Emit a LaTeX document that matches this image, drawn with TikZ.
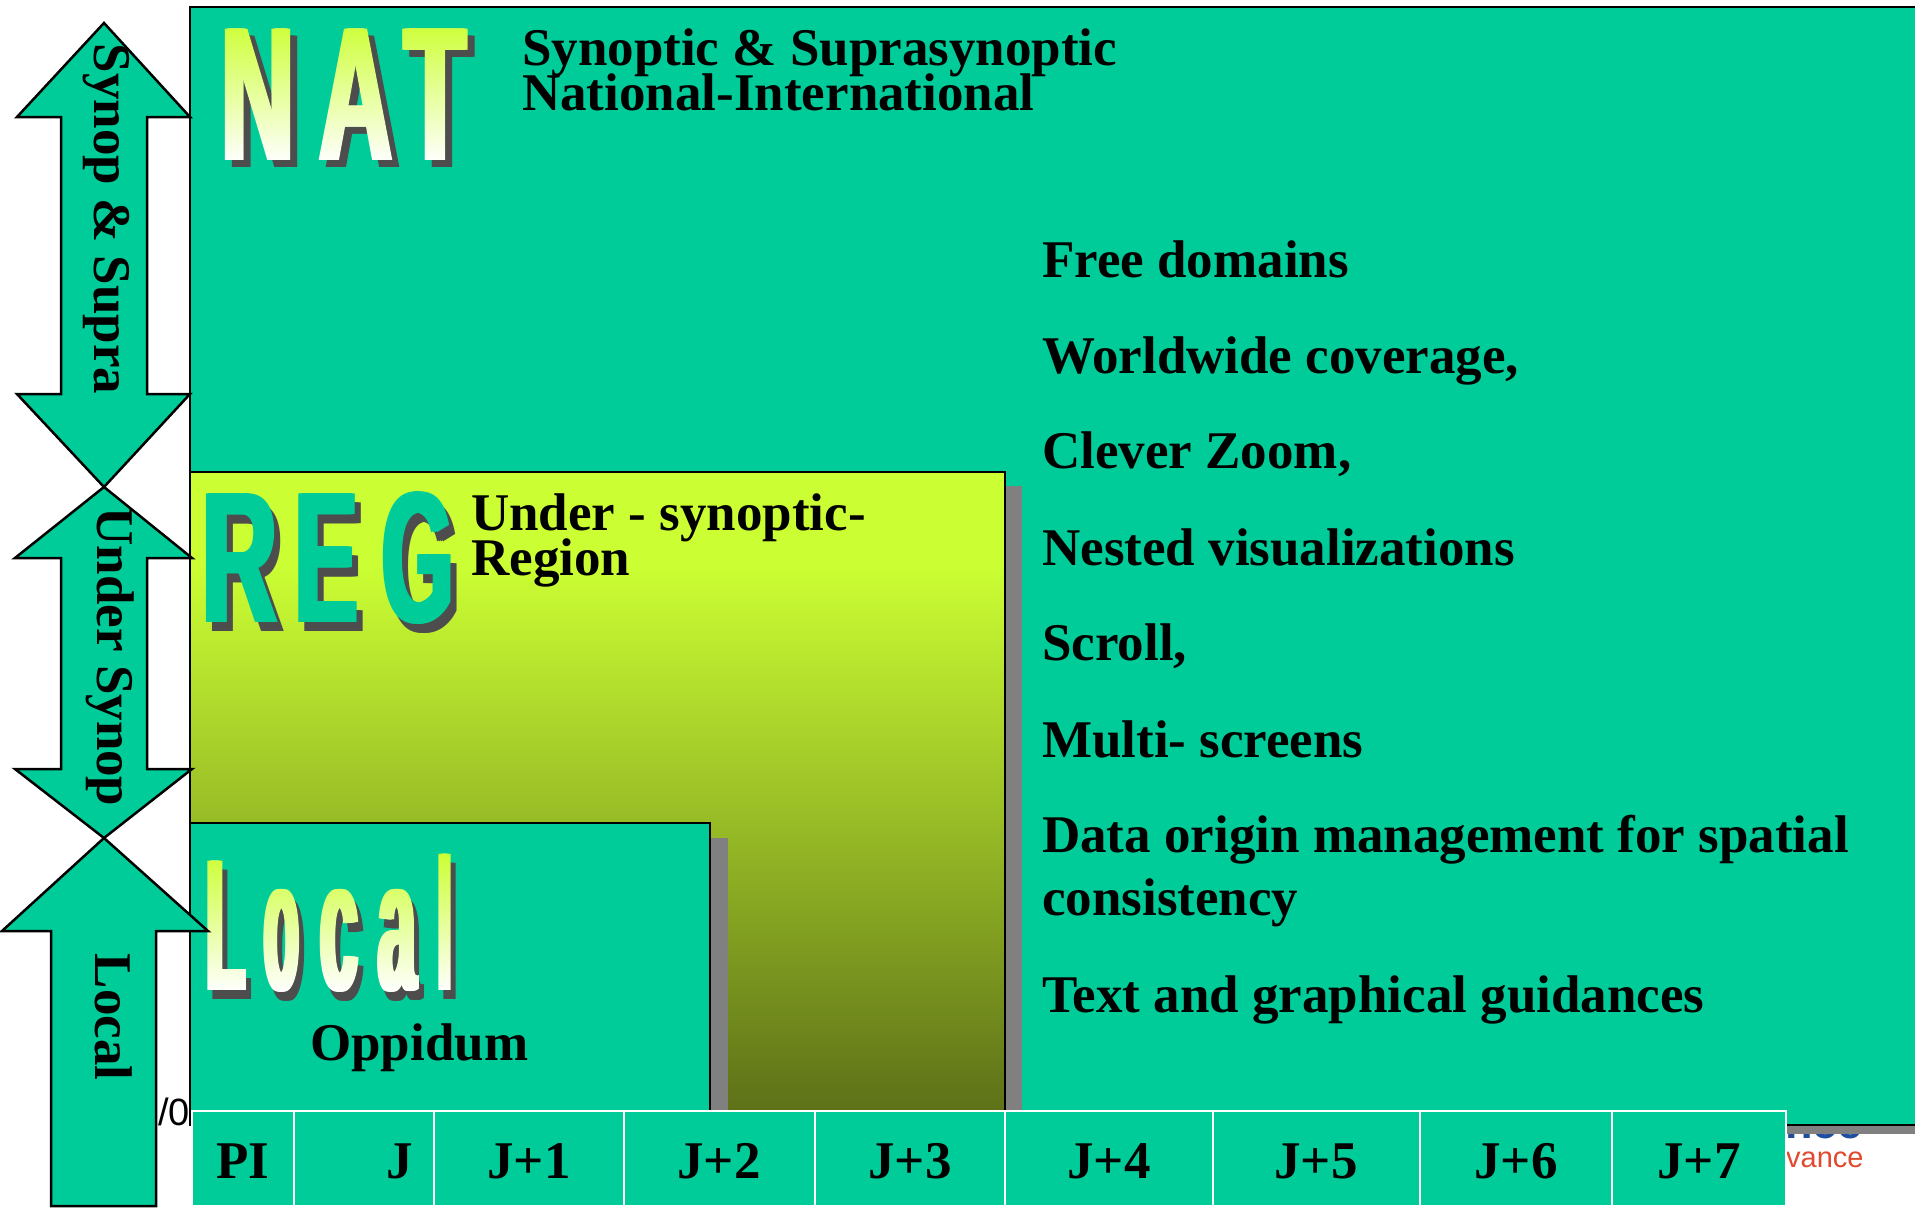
\documentclass[tikz,border=0pt]{standalone}
\usepackage{fontspec}
\usepackage{graphicx}
\usetikzlibrary{fadings}
\setmainfont{Liberation Serif}
\newfontfamily\bigf{Liberation Sans}
\newfontfamily\sansf{Liberation Sans}
\definecolor{teal1}{HTML}{00CC99}
\definecolor{lgreen}{HTML}{CCFF33}
\definecolor{regdark}{HTML}{5D7018}
\definecolor{sgray}{HTML}{4D4D4D}
\definecolor{shgray}{HTML}{808080}
\definecolor{redt}{HTML}{E04A2E}
\definecolor{bluet}{HTML}{1F4E9E}
\pgfdeclareverticalshading{regshade}{100bp}{color(0bp)=(regdark); color(25bp)=(regdark); color(68bp)=(lgreen); color(100bp)=(lgreen)}
\newcommand\fNAT{\bigf\bfseries\fontsize{191}{191}\selectfont}
\newcommand\fREG{\bigf\bfseries\fontsize{187}{187}\selectfont}
\newcommand\fLOC{\bigf\bfseries\fontsize{188}{188}\selectfont}
\newcommand\fTXT{\bfseries\fontsize{53}{53}\selectfont}
\newcommand\twolines[2]{\vtop{\baselineskip=45pt\lineskiplimit=-100pt\lineskip=0pt\hbox{#1}\hbox{#2}}}
\newcommand\fadetxt[3]{\pgftext[base,left,at={\pgfpoint{(#1)*1pt}{(#2)*1pt}}]{\color{white}#3}}
% masks giving the heavy, condensed letter shapes
\pgfdeclarefading{natfade}{%
  \pgfpicture
  \pgfpathrectangle{\pgfpoint{-170pt}{-100pt}}{\pgfpoint{340pt}{200pt}}\pgfusepath{use as bounding box}%
  \foreach \dx in {0,2,4,6}{%
    \fadetxt{-126.4+\dx}{-65}{\fNAT\scalebox{.53}[1]{N}}%
    \fadetxt{-29+\dx}{-65}{\fNAT\scalebox{.53}[1]{A}}%
    \fadetxt{56.8+\dx}{-65}{\fNAT\scalebox{.53}[1]{T}}%
  }%
  \endpgfpicture}
\pgfdeclarefading{regfade}{%
  \pgfpicture
  \pgfpathrectangle{\pgfpoint{-150pt}{-90pt}}{\pgfpoint{300pt}{180pt}}\pgfusepath{use as bounding box}%
  \foreach \dx in {0,2,4,6}{%
    \fadetxt{-130.7+\dx}{-67}{\fREG\scalebox{.555}[1]{R}}%
    \fadetxt{-37.9+\dx}{-67}{\fREG\scalebox{.5}[1]{E}}%
    \fadetxt{49+\dx}{-67}{\fREG\scalebox{.49}[1]{G}}%
  }%
  \endpgfpicture}
\pgfdeclarefading{locfade}{%
  \pgfpicture
  \pgfpathrectangle{\pgfpoint{-150pt}{-90pt}}{\pgfpoint{300pt}{180pt}}\pgfusepath{use as bounding box}%
  \foreach \dx in {0,2,4,6}{%
    \fadetxt{-126.7+\dx}{-65}{\fLOC\scalebox{.34}[1]{L}}%
    \fadetxt{-68.3+\dx}{-65}{\fLOC\scalebox{.3}[1]{o}}%
    \fadetxt{-12.4+\dx}{-65}{\fLOC\scalebox{.36}[1]{c}}%
    \fadetxt{45.6+\dx}{-65}{\fLOC\scalebox{.36}[1]{a}}%
    \fadetxt{105.7+\dx}{-65}{\fLOC\scalebox{.25}[1]{l}}%
  }%
  \endpgfpicture}
\begin{document}
\begin{tikzpicture}[x=1pt,y=-1pt,
  bigl/.style={anchor=base west,inner sep=0pt,outer sep=0pt},
  box/.style={draw=black,line width=2.5pt,anchor=north west,inner sep=0pt,outer sep=0pt},
  lbl/.style={anchor=base west,inner sep=0pt,font=\fTXT},
  vlbl/.style={anchor=base,rotate=-90,inner sep=0pt,font=\fTXT},
  cell/.style={draw=white,line width=2.5pt,fill=teal1,anchor=north west,minimum height=95,inner sep=0pt,outer sep=0pt},
  celltxt/.style={anchor=base,inner sep=0pt,font=\fTXT},
  arr/.style={fill=teal1,draw=black,line width=2.5pt,line join=miter},
  masked/.style={path fading=#1,fit fading=false}]
\useasboundingbox (0,0) rectangle (1915,1208);
\clip (0,0) rectangle (1915,1208);
\fill[white] (0,0) rectangle (1915,1208);

% remnants behind the panels
\node[anchor=base west,inner sep=0pt,text=bluet,font=\sansf\bfseries\fontsize{45}{45}\selectfont] (logob) at (1785,1138) {nce};
\node[anchor=base west,inner sep=0pt,text=redt,font=\sansf\fontsize{29}{29}\selectfont] (logor) at (1786,1167) {vance};
\node[anchor=base east,inner sep=0pt,font=\sansf\fontsize{38}{38}\selectfont] (slash) at (190,1125) {/0};

% NAT panel
\fill[shgray] (198,16) rectangle (1935,1134);
\node[box,fill=teal1,minimum width=1760,minimum height=1118] (nat) at (190,7) {};
% REG panel
\fill[shgray] (207,486) rectangle (1022,1115);
\node[box,shade,shading=regshade,minimum width=815,minimum height=642] (reg) at (190,472) {};
% Local panel
\fill[shgray] (207,838) rectangle (728,1115);
\node[box,fill=teal1,minimum width=520,minimum height=290] (loc) at (190,823) {};

% NAT big letters
\fill[sgray,masked=natfade,fading transform={shift={(352,102)}}] (190,10) rectangle (520,190);
\node[bigl,text=white,font=\fNAT] (natN) at (221.6,160) {\scalebox{.53}[1]{N}};
\node[bigl,text=white,font=\fNAT] (natA) at (319,160) {\scalebox{.53}[1]{A}};
\node[bigl,text=white,font=\fNAT] (natT) at (404.8,160) {\scalebox{.53}[1]{T}};
\shade[masked=natfade,fading transform={shift={(345,95)}},top color=lgreen,bottom color=white] (190,21) rectangle (515,163);

% REG big letters
\fill[sgray,masked=regfade,fading transform={shift={(336,564)}}] (192,470) rectangle (480,650);
\node[bigl,text=teal1,font=\fREG] (regR) at (202.3,622) {\scalebox{.555}[1]{R}};
\node[bigl,text=teal1,font=\fREG] (regE) at (295.1,622) {\scalebox{.5}[1]{E}};
\node[bigl,text=teal1,font=\fREG] (regG) at (382,622) {\scalebox{.49}[1]{G}};
\fill[teal1,masked=regfade,fading transform={shift={(330,555)}}] (192,470) rectangle (480,650);

% Local big letters
\fill[sgray,masked=locfade,fading transform={shift={(335,934)}}] (192,840) rectangle (475,1010);
\node[bigl,text=white,font=\fLOC] (locL) at (206.3,990) {\scalebox{.34}[1]{L}};
\node[bigl,text=white,font=\fLOC] (loco) at (264.7,990) {\scalebox{.3}[1]{o}};
\node[bigl,text=white,font=\fLOC] (locc) at (320.6,990) {\scalebox{.36}[1]{c}};
\node[bigl,text=white,font=\fLOC] (loca) at (378.6,990) {\scalebox{.36}[1]{a}};
\node[bigl,text=white,font=\fLOC] (locl) at (438.7,990) {\scalebox{.25}[1]{l}};
\shade[masked=locfade,fading transform={shift={(330,925)}},top color=lgreen,bottom color=white] (195,853) rectangle (475,992);

% texts
\node[lbl] (t1) at (522,65) {\twolines{Synoptic \& Suprasynoptic}{National-International}};
\node[lbl] (t2) at (471,530) {\twolines{Under - synoptic-}{Region}};
\node[lbl] (t3) at (310,1060) {Oppidum};
\node[lbl] (f1) at (1042,277) {Free domains};
\node[lbl] (f2) at (1042,373) {Worldwide coverage,};
\node[lbl] (f3) at (1042,468) {Clever Zoom,};
\node[lbl] (f4) at (1042,565) {Nested visualizations};
\node[lbl] (f5) at (1042,660) {Scroll,};
\node[lbl] (f6) at (1042,757) {Multi- screens};
\node[lbl] (f7) at (1042,852) {Data origin management for spatial};
\node[lbl] (f8) at (1042,915) {consistency};
\node[lbl] (f9) at (1042,1012) {Text and graphical guidances};

% time row
\foreach \x/\w/\n in {192/102/pi,294/140/j0,434/190/j1,624/191/j2,815/190/j3,1005/208/j4,1213/207/j5,1420/192/j6,1612/174/j7}
  \node[cell,minimum width=\w] (c\n) at (\x,1111) {};
\foreach \x/\t/\n in {243/PI/pi,400/J/j0,529/J+1/j1,719/J+2/j2,910/J+3/j3,1109/J+4/j4,1316/J+5/j5,1516/J+6/j6,1699/J+7/j7}
  \node[celltxt] (l\n) at (\x,1178) {\t};

% scale arrows
\path[arr] (104,23) -- (190,117) -- (147,117) -- (147,394) -- (190,394) -- (104,487)
  -- (17,394) -- (61,394) -- (61,117) -- (17,117) -- cycle;
\path[arr] (104,487) -- (192,558) -- (147,558) -- (147,769) -- (192,769) -- (104,838)
  -- (15,769) -- (61,769) -- (61,558) -- (15,558) -- cycle;
\path[arr] (104,838) -- (208,931) -- (156,931) -- (156,1206) -- (51,1206) -- (51,931)
  -- (2,931) -- cycle;
\node[vlbl] (a1) at (94,219) {Synop \& Supra};
\node[vlbl] (a2) at (97,657) {Under Synop};
\node[vlbl] (a3) at (95,1017) {Local};
\end{tikzpicture}
\end{document}
